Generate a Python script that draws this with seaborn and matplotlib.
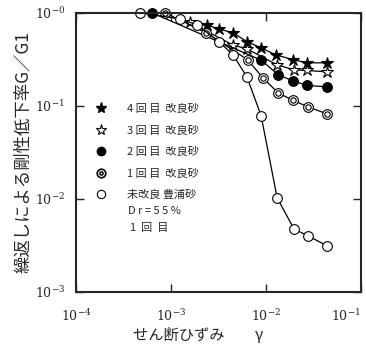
import numpy as np
import pandas as pd
import matplotlib
matplotlib.use("Agg")
import matplotlib.pyplot as plt
from matplotlib.lines import Line2D
from matplotlib.ticker import FixedLocator, FuncFormatter, NullLocator
import seaborn as sns

# ------------------------------
# Data
# ------------------------------
strain_4 = [2.4e-3, 3.2e-3, 4.5e-3, 6.3e-3, 8.9e-3, 1.27e-2, 1.95e-2, 2.69e-2, 4.4e-2]
ratio_4 = [0.74, 0.67, 0.61, 0.49, 0.42, 0.353, 0.313, 0.29, 0.29]

strain_3 = [1.58e-3, 4.5e-3, 6.3e-3, 1.31e-2, 1.97e-2, 2.69e-2, 4.4e-2]
ratio_3 = [0.79, 0.45, 0.41, 0.276, 0.244, 0.24, 0.232]

strain_2 = [6.3e-4, 8.9e-3, 1.35e-2, 1.92e-2, 2.69e-2, 4.4e-2]
ratio_2 = [1.0, 0.31, 0.215, 0.186, 0.166, 0.16]

strain_1 = [8.65e-4, 2.35e-3, 6.4e-3, 9.3e-3, 1.35e-2, 1.92e-2, 2.76e-2, 4.4e-2]
ratio_1 = [1.0, 0.61, 0.313, 0.2, 0.137, 0.115, 0.0976, 0.082]

strain_0 = [4.7e-4, 1.24e-3, 1.88e-3, 3.2e-3, 4.5e-3, 6.3e-3, 8.9e-3, 1.31e-2, 1.97e-2, 2.76e-2, 4.4e-2]
ratio_0 = [1.0, 0.86, 0.743, 0.49, 0.353, 0.205, 0.078, 0.0103, 0.00475, 0.004, 0.00313]

labels = ["4 回 目  改良砂", "3 回 目  改良砂", "2 回 目  改良砂", "1 回 目  改良砂", "未改良 豊浦砂"]
x_ticks = [1e-4, 1e-3, 1e-2, 1e-1]
y_ticks = [1e-3, 1e-2, 1e-1, 1e0]

# ------------------------------
# Style
# ------------------------------
sns.set_style("ticks")
plt.rcParams["font.family"] = ["Noto Sans CJK JP", "DejaVu Sans"]
plt.rcParams["mathtext.fontset"] = "dejavuserif"

fig = plt.figure(figsize=(3.66, 3.47), dpi=100)
ax = fig.add_axes([0.208, 0.159, 0.778, 0.804])

ms = 7
common = dict(color="black", linewidth=0.9, markeredgecolor="black",
              markeredgewidth=0.8, clip_on=False, ax=ax)

sns.lineplot(x=strain_4, y=ratio_4, marker="*", markersize=ms + 2,
             markerfacecolor="black", **common)
sns.lineplot(x=strain_3, y=ratio_3, marker="*", markersize=ms + 2,
             markerfacecolor="white", **common)
sns.lineplot(x=strain_2, y=ratio_2, marker="o", markersize=ms,
             markerfacecolor="black", **common)
sns.lineplot(x=strain_1, y=ratio_1, marker="o", markersize=ms,
             markerfacecolor="white", **common)
# inner ring for the double-circle marker
ax.plot(strain_1, ratio_1, linestyle="none", marker="o", markersize=ms * 0.55,
        markerfacecolor="white", markeredgecolor="black", markeredgewidth=0.8,
        clip_on=False)
sns.lineplot(x=strain_0, y=ratio_0, marker="o", markersize=ms,
             markerfacecolor="white", **common)

ax.set_xscale("log")
ax.set_yscale("log")
ax.set_xlim(1e-4, 1e-1)
ax.set_ylim(1e-3, 1e0)

def pow_fmt(v, pos):
    e = int(round(np.log10(v)))
    return r"$10^{-%d}$" % abs(e)

ax.xaxis.set_major_locator(FixedLocator(x_ticks))
ax.yaxis.set_major_locator(FixedLocator(y_ticks))
ax.xaxis.set_minor_locator(NullLocator())
ax.yaxis.set_minor_locator(NullLocator())
ax.xaxis.set_major_formatter(FuncFormatter(pow_fmt))
ax.yaxis.set_major_formatter(FuncFormatter(pow_fmt))
ax.tick_params(which="major", direction="in", length=6, width=1.0,
               top=True, right=True, labelsize=9, pad=8)
ax.tick_params(axis="x", pad=12)
for s in ax.spines.values():
    s.set_linewidth(1.5)
fig.canvas.draw()
ax.get_xticklabels()[-1].set_horizontalalignment("right")

ax.set_xlabel("せん断ひずみ　　γ", fontsize=11, labelpad=2, x=0.428)
ax.set_ylabel("繰返しによる剛性低下率G／G1", fontsize=12.5, labelpad=2)

# ------------------------------
# Legend
# ------------------------------
handles = [
    Line2D([], [], linestyle="none", marker="*", markersize=ms + 1,
           markerfacecolor="black", markeredgecolor="black"),
    Line2D([], [], linestyle="none", marker="*", markersize=ms + 1,
           markerfacecolor="white", markeredgecolor="black", markeredgewidth=0.8),
    Line2D([], [], linestyle="none", marker="o", markersize=ms - 1,
           markerfacecolor="black", markeredgecolor="black"),
    Line2D([], [], linestyle="none", marker=r"$\circledcirc$", markersize=ms,
           markerfacecolor="black", markeredgecolor="black", markeredgewidth=0.3),
    Line2D([], [], linestyle="none", marker="o", markersize=ms - 1,
           markerfacecolor="white", markeredgecolor="black", markeredgewidth=0.8),
]
leg = ax.legend(handles, labels, loc="upper left", bbox_to_anchor=(0.05, 0.69),
                frameon=False, fontsize=8, handlelength=1.2, handletextpad=1.7,
                labelspacing=1.02, borderaxespad=0)
ax.text(0.182, 0.29, "D r = 5 5 %", transform=ax.transAxes, fontsize=8,
        va="center", ha="left")
ax.text(0.189, 0.228, "1  回  目", transform=ax.transAxes, fontsize=8,
        va="center", ha="left")

fig.savefig("out.png", dpi=100)
